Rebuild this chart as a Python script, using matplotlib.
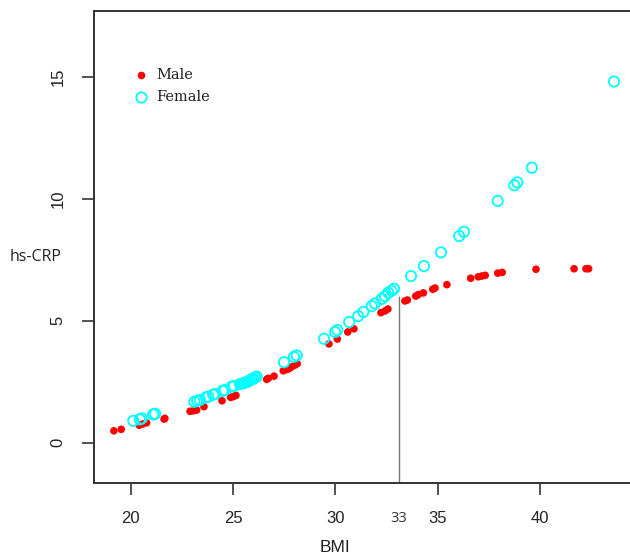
import matplotlib
matplotlib.use("Agg")
import matplotlib.pyplot as plt
from matplotlib.transforms import blended_transform_factory

# ---- data ----
male_bmi = [19.18, 19.54, 20.42, 20.59, 20.78, 21.63, 21.67, 22.90, 23.06, 23.22,
            23.58, 24.46, 24.88, 25.01, 25.14, 26.64, 26.72, 27.00, 27.45, 27.62,
            27.74, 27.86, 28.02, 28.13, 29.68, 30.09, 30.60, 30.90, 32.22, 32.42,
            32.56, 33.39, 33.51, 33.92, 34.04, 34.29, 34.75, 34.86, 35.44, 36.60,
            36.97, 37.14, 37.31, 37.92, 38.14, 39.79, 41.65, 42.23, 42.36]
male_crp = [0.49, 0.55, 0.72, 0.77, 0.82, 0.97, 1.00, 1.29, 1.31, 1.34,
            1.48, 1.72, 1.86, 1.89, 1.94, 2.60, 2.64, 2.73, 2.95, 3.00,
            3.04, 3.11, 3.18, 3.24, 4.05, 4.25, 4.54, 4.67, 5.33, 5.40,
            5.48, 5.81, 5.85, 6.01, 6.07, 6.14, 6.29, 6.34, 6.48, 6.74,
            6.80, 6.83, 6.86, 6.95, 6.98, 7.11, 7.13, 7.13, 7.13]

female_bmi = [20.13, 20.45, 20.54, 21.10, 21.19, 23.11, 23.25, 23.38, 23.68, 23.79,
              24.03, 24.12, 24.49, 24.60, 24.93, 25.04, 25.34, 25.47, 25.58, 25.66,
              25.74, 25.83, 25.91, 25.99, 26.07, 26.15, 27.49, 27.97, 28.11, 29.44,
              29.98, 30.09, 30.67, 31.11, 31.36, 31.77, 31.93, 32.26, 32.42, 32.58,
              32.74, 32.86, 33.69, 34.32, 35.15, 36.04, 36.27, 37.92, 38.73, 38.88,
              39.59, 43.60]
female_crp = [0.90, 0.96, 1.00, 1.16, 1.19, 1.68, 1.72, 1.75, 1.86, 1.89,
              1.97, 2.00, 2.13, 2.16, 2.30, 2.32, 2.41, 2.43, 2.46, 2.49,
              2.52, 2.57, 2.60, 2.62, 2.68, 2.71, 3.30, 3.52, 3.58, 4.26,
              4.54, 4.62, 4.95, 5.19, 5.36, 5.60, 5.71, 5.90, 6.01, 6.15,
              6.23, 6.31, 6.83, 7.24, 7.80, 8.47, 8.64, 9.91, 10.55, 10.67,
              11.27, 14.80]

x_ticks = [20, 25, 30, 35, 40]
y_ticks = [0, 5, 10, 15]
cutoff_bmi = 33.1
cutoff_crp = 5.98

RED = "#FF0000"
CYAN = "#00FFFF"
FRAME = "#333333"
TXT = "#222222"

fig = plt.figure(figsize=(6.30, 5.57), dpi=100, facecolor="white")
ax = fig.add_axes([0.1492, 0.1323, 0.8508, 0.8471])

ax.scatter(male_bmi, male_crp, s=30, color=RED, edgecolors="none", zorder=3)
ax.scatter(female_bmi, female_crp, s=55, facecolors="none", edgecolors=CYAN,
           linewidths=1.3, zorder=3)

# cut-off line at BMI 33
ax.plot([cutoff_bmi, cutoff_bmi], [-1.66, cutoff_crp], color="#777777", lw=1.0, zorder=2)

ax.set_xlim(18.21, 44.38)
ax.set_ylim(-1.66, 17.67)

ax.set_xticks(x_ticks)
ax.set_yticks(y_ticks)
ax.tick_params(axis="both", length=8.6, width=1.2, color=FRAME, labelsize=12,
               labelcolor=TXT, pad=11)
ax.tick_params(axis="y", pad=12)
for lab in ax.get_xticklabels() + ax.get_yticklabels():
    lab.set_family("Liberation Sans")
plt.setp(ax.get_yticklabels(), rotation=90, va="center")

for s in ["left", "bottom", "top"]:
    ax.spines[s].set_color(FRAME)
    ax.spines[s].set_linewidth(1.4)
ax.spines["right"].set_visible(False)

# extra tick label for the cut-off
trans = blended_transform_factory(ax.transData, fig.transFigure)
ax.text(cutoff_bmi, 1 - 518 / 557, "33", transform=trans, ha="center", va="center",
        fontsize=10.5, family="Open Sans", color="#333333", clip_on=False)

fig.text(335 / 630, 1 - 548 / 557, "BMI", ha="center", va="center",
         fontsize=12.5, family="Liberation Sans", color=TXT)
fig.text(10 / 630, 1 - 257 / 557, "hs-CRP", ha="left", va="center",
         fontsize=11.5, family="Open Sans", color=TXT)

# legend
lx = (141 - 94) / 536
tx = (156 - 94) / 536
y_male = 1 - (75 - 11.5) / 471.8
y_female = 1 - (97 - 11.5) / 471.8
ax.plot([lx], [y_male], "o", ms=5.5, color=RED, mec="none", transform=ax.transAxes)
ax.plot([lx], [y_female], "o", ms=7.5, mfc="none", mec=CYAN, mew=1.3,
        transform=ax.transAxes)
ax.text(tx, y_male, "Male", transform=ax.transAxes, ha="left", va="center",
        fontsize=10.5, family="DejaVu Serif", color=TXT)
ax.text(tx, y_female, "Female", transform=ax.transAxes, ha="left", va="center",
        fontsize=10.5, family="DejaVu Serif", color=TXT)

fig.savefig("out.png", dpi=100, facecolor="white")
